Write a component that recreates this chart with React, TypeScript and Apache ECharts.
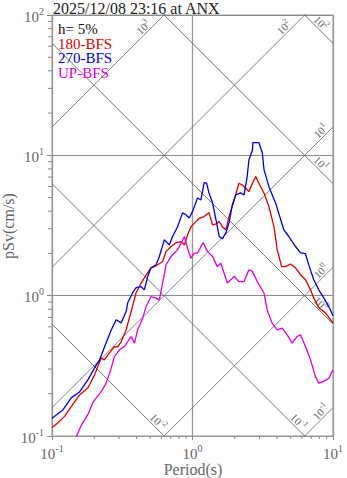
import React, { useEffect, useRef } from "react";
import * as echarts from "echarts";

const FONT = "'Liberation Serif', 'Times New Roman', serif";

const titleText = "2025/12/08 23:16 at ANX";
const dampingLabel = "h= 5%";
const xAxisTitle = "Period(s)";
const yAxisTitle = "pSv(cm/s)";
const seriesNames = ["180-BFS", "270-BFS", "UP-BFS"];
const seriesColors = ["#e00000", "#0000e0", "#e000e0"];

// 180-BFS
const period180 = [0.100,0.110,0.123,0.137,0.157,0.180,0.201,0.212,0.224,0.236,0.250,0.278,0.294,0.311,0.337,0.366,0.397,0.431,0.454,0.507,0.535,0.565,0.613,0.648,0.703,0.762,0.827,0.877,0.922,0.975,1.057,1.115,1.21,1.31,1.39,1.47,1.55,1.63,1.73,1.82,1.98,2.14,2.26,2.39,2.52,2.67,2.82,2.97,3.23,3.50,3.80,4.01,4.31,4.60,4.99,5.41,5.87,6.37,6.92,7.29,7.92,8.83,10.0];
const sv180 = [0.115,0.124,0.138,0.162,0.196,0.220,0.273,0.313,0.359,0.349,0.379,0.434,0.431,0.471,0.570,0.771,1.05,1.23,1.34,1.58,1.61,1.66,1.75,2.06,2.24,2.38,2.43,2.30,2.71,3.10,3.37,3.56,3.66,3.91,3.19,3.25,3.37,3.10,2.94,3.66,4.81,6.33,6.15,5.83,5.51,6.33,7.05,6.33,5.37,4.31,3.10,2.12,1.61,1.61,1.68,1.58,1.41,1.30,1.10,0.964,0.819,0.754,0.640];

// 270-BFS
const period270 = [0.100,0.120,0.137,0.157,0.180,0.201,0.218,0.243,0.264,0.286,0.311,0.337,0.346,0.375,0.397,0.431,0.454,0.480,0.507,0.550,0.581,0.630,0.684,0.721,0.783,0.849,0.898,0.948,1.00,1.085,1.148,1.21,1.26,1.31,1.39,1.47,1.55,1.63,1.73,1.82,1.92,2.03,2.20,2.33,2.45,2.52,2.67,2.69,2.97,3.14,3.23,3.50,3.90,4.47,4.85,5.41,5.87,6.37,6.73,7.30,7.92,8.59,9.33,10.0];
const sv270 = [0.134,0.154,0.187,0.206,0.251,0.306,0.349,0.461,0.570,0.673,0.640,0.771,0.889,1.05,1.14,1.16,1.10,1.37,1.58,1.66,1.90,2.50,2.30,2.64,3.10,3.89,3.77,3.58,3.97,4.97,4.81,6.39,6.33,5.40,4.58,3.47,2.64,2.54,2.80,3.30,4.43,5.22,5.40,5.22,7.05,9.27,10.9,12.3,12.3,10.4,7.87,5.98,4.58,2.94,2.64,2.24,2.02,1.99,1.65,1.30,1.10,0.964,0.836,0.719];

// UP-BFS
const periodUP = [0.149,0.162,0.180,0.195,0.206,0.224,0.243,0.264,0.278,0.302,0.328,0.346,0.366,0.386,0.407,0.442,0.467,0.507,0.550,0.581,0.613,0.648,0.703,0.783,0.877,0.922,0.975,1.028,1.085,1.19,1.28,1.39,1.50,1.59,1.77,1.98,2.14,2.33,2.52,2.67,2.89,3.23,3.40,3.69,4.01,4.35,4.72,5.12,5.56,5.87,6.37,6.92,7.50,7.92,8.59,9.33,10.0];
const svUP = [0.099,0.120,0.142,0.172,0.186,0.207,0.238,0.305,0.368,0.411,0.434,0.471,0.512,0.459,0.570,0.691,0.836,0.986,0.960,0.933,1.23,1.66,1.90,2.12,2.64,2.18,1.85,2.01,2.01,2.39,2.06,1.90,1.61,1.70,1.23,1.37,1.26,1.26,1.53,1.49,1.26,1.04,0.792,0.637,0.570,0.587,0.526,0.459,0.512,0.526,0.434,0.349,0.265,0.238,0.245,0.258,0.296];

// tripartite levels
const accelExponents = [-1, 0, 1, 2, 3];
const dispExponents = [-2, -1, 0, 1, 2];

const periodRange = [0.1, 10];
const svRange = [0.1, 100];
const minorMultipliers = [2, 3, 4, 5, 6, 7, 8, 9];

const TWO_PI = 2 * Math.PI;

function supLabel(exp: number) {
  return "{b|10}{s|" + exp + "}";
}

export default function App() {
  const ref = useRef<HTMLDivElement>(null);
  useEffect(() => {
    const chart = echarts.init(ref.current!, null, { renderer: "svg" });

    const curves = [
      [period180, sv180],
      [period270, sv270],
      [periodUP, svUP],
    ];

    const curveSeries = curves.map(([ts, vs], i) => ({
      type: "line",
      name: seriesNames[i],
      data: ts.map((t, k) => [t, vs[k]]),
      showSymbol: false,
      symbol: "none",
      clip: true,
      z: 5,
      lineStyle: { color: seriesColors[i], width: 1.3 },
      silent: true,
    }));

    const [tMin, tMax] = periodRange;
    const [vMin, vMax] = svRange;

    const accelSeries = accelExponents.map((e) => {
      const a = Math.pow(10, e);
      return {
        type: "line",
        data: [
          [tMin, (a * tMin) / TWO_PI],
          [tMax, (a * tMax) / TWO_PI],
        ],
        showSymbol: false,
        symbol: "none",
        clip: true,
        z: 2,
        silent: true,
        lineStyle: { color: "#777", width: 0.9 },
      };
    });
    const dispSeries = dispExponents.map((e) => {
      const d = Math.pow(10, e);
      return {
        type: "line",
        data: [
          [tMin, (TWO_PI * d) / tMin],
          [tMax, (TWO_PI * d) / tMax],
        ],
        showSymbol: false,
        symbol: "none",
        clip: true,
        z: 2,
        silent: true,
        lineStyle: { color: "#666", width: 0.9 },
      };
    });

    // label anchors: the point where each diagonal leaves the plot
    const diagLabelData: number[][] = [];
    accelExponents.forEach((e) => {
      const a = Math.pow(10, e);
      const vRight = (a * tMax) / TWO_PI;
      if (vRight <= vMax) diagLabelData.push([tMax, vRight, 0, 0, e]);
      else diagLabelData.push([(vMax * TWO_PI) / a, vMax, 0, 1, e]);
    });
    dispExponents.forEach((e) => {
      const d = Math.pow(10, e);
      const vRight = (TWO_PI * d) / tMax;
      if (vRight >= vMin) diagLabelData.push([tMax, vRight, 1, 0, e]);
      else diagLabelData.push([(TWO_PI * d) / vMin, vMin, 1, 1, e]);
    });

    const smallRich = {
      b: { fontSize: 11, lineHeight: 13, verticalAlign: "bottom", fontFamily: FONT, fill: "#666", color: "#666" },
      s: { fontSize: 8, lineHeight: 8, verticalAlign: "top", fontFamily: FONT, fill: "#666", color: "#666" },
    };

    const diagLabelSeries = {
      type: "custom",
      data: diagLabelData,
      encode: { x: 0, y: 1 },
      clip: false,
      silent: true,
      z: 3,
      renderItem: (params: any, api: any) => {
        const p = api.coord([api.value(0), api.value(1)]);
        const kind = api.value(2);
        const exitType = api.value(3);
        const exp = api.value(4);
        const s = Math.SQRT1_2;
        let ux, uy, nx, ny, along, rot;
        if (kind === 0) {
          ux = -s; uy = s; nx = -s; ny = -s;
          along = exitType === 1 ? 23.5 : 11.5;
          rot = Math.PI / 4;
        } else {
          ux = -s; uy = -s; nx = s; ny = -s;
          along = exitType === 0 ? 23 : 14.5;
          rot = -Math.PI / 4;
        }
        const off = 7;
        return {
          type: "text",
          x: p[0] + ux * along + nx * off,
          y: p[1] + uy * along + ny * off,
          rotation: rot,
          style: {
            text: supLabel(exp),
            rich: smallRich,
            align: "center",
            verticalAlign: "middle",
            fill: "#666",
            fontFamily: FONT,
          },
        };
      },
    };

    // minor ticks
    const minorData: number[][] = [];
    [-1, 0].forEach((e) => {
      minorMultipliers.forEach((m) => minorData.push([m * Math.pow(10, e), vMin, 0]));
    });
    [-1, 0, 1].forEach((e) => {
      minorMultipliers.forEach((m) => minorData.push([tMin, m * Math.pow(10, e), 1]));
    });
    const minorTickSeries = {
      type: "custom",
      data: minorData,
      encode: { x: 0, y: 1 },
      clip: false,
      silent: true,
      z: 3,
      renderItem: (params: any, api: any) => {
        const p = api.coord([api.value(0), api.value(1)]);
        const axis = api.value(2);
        const shape =
          axis === 0
            ? { x1: p[0], y1: p[1], x2: p[0], y2: p[1] + 3 }
            : { x1: p[0] - 4, y1: p[1], x2: p[0], y2: p[1] };
        return { type: "line", shape, style: { stroke: "#888", lineWidth: 1 } };
      },
    };

    const axisRich = {
      b: { fontSize: 15, lineHeight: 18, verticalAlign: "bottom", fontFamily: FONT, color: "#666" },
      s: { fontSize: 10, lineHeight: 10, verticalAlign: "top", fontFamily: FONT, color: "#666" },
    };

    const legendTexts = [dampingLabel, ...seriesNames];
    const legendColors = ["#111", ...seriesColors];

    const option: any = {
      animation: false,
      grid: {
        left: 52,
        right: 14,
        top: 15,
        bottom: 42,
        show: true,
        borderColor: "#999",
        borderWidth: 1,
        backgroundColor: "transparent",
        containLabel: false,
        outerBoundsMode: "none",
      },
      xAxis: {
        type: "log",
        logBase: 10,
        min: tMin,
        max: tMax,
        axisLine: { show: true, lineStyle: { color: "#999", width: 1 } },
        axisTick: { show: true, length: 4, lineStyle: { color: "#888" } },
        splitLine: { show: true, lineStyle: { color: "#999", width: 1.3 } },
        axisLabel: {
          margin: 7,
          formatter: (v: number) => supLabel(Math.round(Math.log10(v))),
          rich: axisRich,
        },
      },
      yAxis: {
        type: "log",
        logBase: 10,
        min: vMin,
        max: vMax,
        axisLine: { show: true, lineStyle: { color: "#999", width: 1 } },
        axisTick: { show: true, length: 5, lineStyle: { color: "#888" } },
        splitLine: { show: true, lineStyle: { color: "#8c8c8c", width: 1 } },
        axisLabel: {
          margin: 8,
          formatter: (v: number) => supLabel(Math.round(Math.log10(v))),
          rich: axisRich,
        },
      },
      graphic: [
        {
          type: "text",
          x: 53,
          y: 8,
          style: {
            text: titleText,
            fontSize: 16,
            fontFamily: FONT,
            fill: "#222",
            verticalAlign: "middle",
          },
        },
        {
          type: "text",
          x: 193,
          y: 469,
          style: {
            text: xAxisTitle,
            fontSize: 16,
            fontFamily: FONT,
            fill: "#666",
            align: "center",
            verticalAlign: "middle",
          },
        },
        {
          type: "text",
          x: 8,
          y: 226,
          rotation: Math.PI / 2,
          style: {
            text: yAxisTitle,
            fontSize: 16,
            fontFamily: FONT,
            fill: "#666",
            align: "center",
            verticalAlign: "middle",
          },
        },
        ...legendTexts.map((t, i) => ({
          type: "text",
          x: 58,
          y: 29 + i * 14.6,
          z: 10,
          style: {
            text: t,
            fontSize: 15,
            fontFamily: FONT,
            fill: legendColors[i],
            verticalAlign: "middle",
          },
        })),
      ],
      series: [...accelSeries, ...dispSeries, diagLabelSeries, minorTickSeries, ...curveSeries],
    };

    chart.setOption(option);
    return () => chart.dispose();
  }, []);

  return (
    <div
      ref={ref}
      style={{ position: "fixed", left: 0, top: 0, width: 347, height: 478, background: "#fff" }}
    />
  );
}
